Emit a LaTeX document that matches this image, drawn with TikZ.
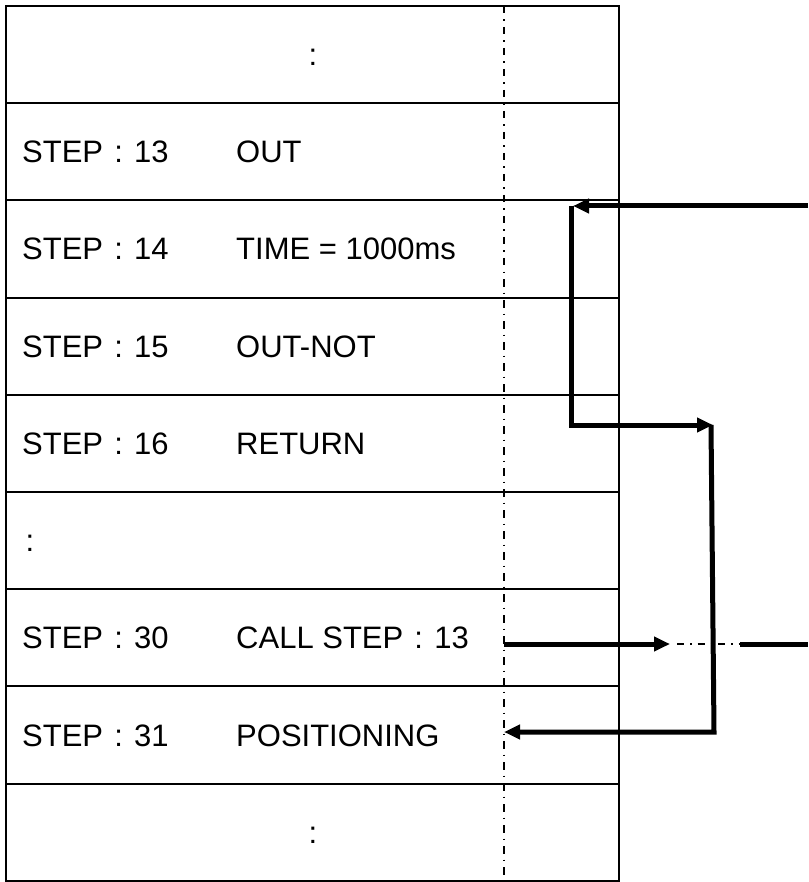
\documentclass[tikz,border=0pt]{standalone}
\usepackage{fontspec}
\setmainfont{Liberation Sans}
\usetikzlibrary{arrows.meta}
\newcommand{\fc}{\makebox[1em][c]{:}}
\begin{document}
\begin{tikzpicture}[x=1pt,y=-1pt,
  gridline/.style={line width=2pt},
  guide/.style={line width=1.8pt, dash pattern=on 7.5pt off 6pt on 1.5pt off 6pt},
  thinguide/.style={line width=1.5pt, dash pattern=on 7pt off 6pt on 1.5pt off 6pt},
  flow/.style={line width=5pt, line join=miter},
  flowarrow/.style={line width=5pt, line join=miter, -{Triangle[length=16pt,width=14pt]}},
  lbl/.style={anchor=base west, inner sep=0pt, font=\fontsize{31}{36}\selectfont}]
\useasboundingbox (0,0) rectangle (808,882);
% table
\draw[gridline] (6,6) rectangle (619,880.75);
\foreach \i in {1,...,8} {
  \draw[gridline] (6,{6+97.19*\i}) -- (619,{6+97.19*\i});
}
\draw[guide] (504,6) -- (504,880.75);
% texts (baseline = row centre + 11)
\node[lbl, anchor=base] (dotsA) at (313,65.6) {\fc};
\node[lbl] (s13) at (22,162.8) {STEP\fc13};
\node[lbl] (c13) at (236,162.8) {OUT};
\node[lbl] (s14) at (22,260) {STEP\fc14};
\node[lbl] (c14) at (236,260) {TIME = 1000ms};
\node[lbl] (s15) at (22,357.2) {STEP\fc15};
\node[lbl] (c15) at (236,357.2) {OUT-NOT};
\node[lbl] (s16) at (22,454.4) {STEP\fc16};
\node[lbl] (c16) at (236,454.4) {RETURN};
\node[lbl, anchor=base] (dotsB) at (30,551.6) {\fc};
\node[lbl] (s30) at (22,648.8) {STEP\fc30};
\node[lbl] (c30) at (236,648.8) {CALL STEP\fc13};
\node[lbl] (s31) at (22,746) {STEP\fc31};
\node[lbl] (c31) at (236,746) {POSITIONING};
\node[lbl, anchor=base] (dotsC) at (313,843.2) {\fc};
% connector coordinates
\coordinate (inA) at (808,206);
\coordinate (tipA) at (573,206);
\coordinate (cornA) at (571,206);
\coordinate (cornB) at (571,425);
\coordinate (tipB) at (713,425);
\coordinate (topC) at (711,425);
\coordinate (cornC) at (714,732);
\coordinate (tipC) at (504,732);
\coordinate (fromD) at (504,644);
\coordinate (tipD) at (670,644);
\coordinate (gapD1) at (677,644);
\coordinate (gapD2) at (740,644);
\coordinate (outD) at (808,644);
% connectors
\draw[flowarrow] (inA) -- (tipA);
\draw[flowarrow] (cornA) -- (cornB) -- (tipB);
\draw[flowarrow] (topC) -- (cornC) -- (tipC);
\draw[flowarrow] (fromD) -- (tipD);
\draw[thinguide] (gapD1) -- (gapD2);
\draw[flow] (gapD2) -- (outD);
\end{tikzpicture}
\end{document}
